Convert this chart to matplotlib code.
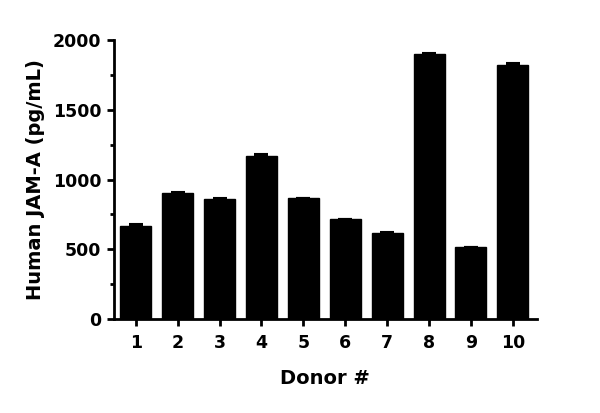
import matplotlib
matplotlib.use("Agg")
import matplotlib.pyplot as plt
from matplotlib.ticker import MultipleLocator

donors = ["1", "2", "3", "4", "5", "6", "7", "8", "9", "10"]
values = [666, 905, 861, 1172, 866, 714, 620, 1902, 515, 1823]
errors = [14, 3, 3, 14, 3, 3, 3, 3, 3, 14]

plt.rcParams['font.family'] = ['DejaVu Sans']
plt.rcParams['font.weight'] = 'bold'

fig = plt.figure(figsize=(6, 4.13), dpi=100)
ax = fig.add_axes([0.19, 0.2276, 0.7045, 0.6754])

x = list(range(1, len(donors) + 1))
ax.bar(x, values, width=0.74, color='black', edgecolor='black', zorder=2)
ax.errorbar(x, values, yerr=[[0]*len(errors), errors], fmt='none', ecolor='black',
            elinewidth=1.5, capsize=5, capthick=1.5, zorder=1)

ax.set_xlim(0.48, 10.57)
ax.set_ylim(0, 2000)
ax.set_xticks(x)
ax.set_xticklabels(donors)
ax.set_yticks([0, 500, 1000, 1500, 2000])
ax.yaxis.set_minor_locator(MultipleLocator(250))

for s in ['top', 'right']:
    ax.spines[s].set_visible(False)
for s in ['left', 'bottom']:
    ax.spines[s].set_linewidth(2)

ax.tick_params(axis='both', which='major', length=5, width=2, labelsize=12.5, pad=4)
ax.tick_params(axis='y', which='minor', length=3, width=2)
ax.tick_params(axis='x', which='major', pad=6)
for lab in ax.get_xticklabels() + ax.get_yticklabels():
    lab.set_fontweight('bold')

ax.set_ylabel("Human JAM-A (pg/mL)", fontsize=14, fontweight='bold', labelpad=6)
ax.set_xlabel("Donor #", fontsize=14, fontweight='bold', labelpad=12)

fig.savefig("out.png", dpi=100)
